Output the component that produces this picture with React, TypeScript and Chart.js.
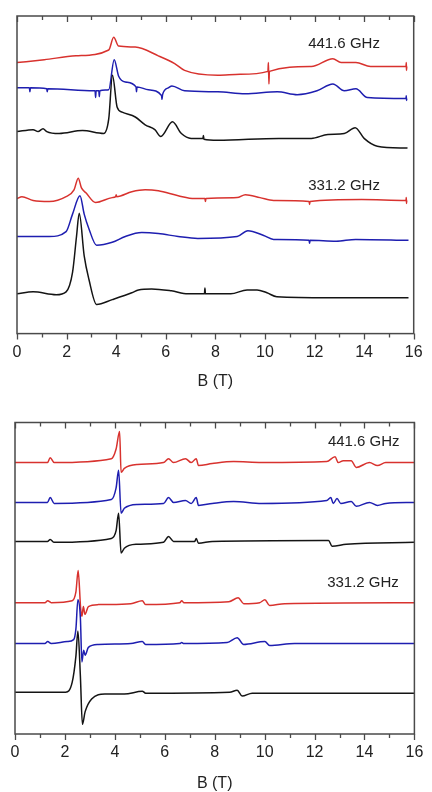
import React, { useEffect, useRef } from "react";
import { Chart, registerables } from "chart.js";

Chart.register(...registerables);

// Magnetic field B (T) vs. offset intensity (arb. units), one list of [B, I] per trace.
// ---------- Upper panel ----------
const TOP_441_RED: [number, number][] = [
  [0, 279], [1.1, 282], [2.38, 286], [3.7, 292], [3.9, 305], [4.1, 296], [4.77, 295], [5.7, 286],
  [6.36, 278], [6.76, 271], [8.1, 266], [9.0, 267], [10.12, 270], [10.14, 279], [10.16, 257], [10.18, 270],
  [11.87, 275], [12.74, 283], [13.07, 279], [13.67, 279], [14.26, 275], [15.69, 275], [15.7, 279], [15.71, 271], [15.72, 275],
];
const TOP_441_BLUE: [number, number][] = [
  [0, 253], [0.5, 253], [0.52, 249], [0.54, 253], [1.2, 252], [1.22, 249], [1.24, 252], [3.1, 250], [3.15, 250], [3.17, 243], [3.19, 250],
  [3.3, 250], [3.32, 244], [3.34, 250], [3.7, 251], [3.92, 282], [4.1, 265], [4.37, 259], [4.8, 254], [4.82, 249], [4.84, 254],
  [5.3, 251], [5.83, 245], [5.85, 241], [5.87, 246], [6.1, 253], [6.25, 255], [6.76, 250], [8.1, 249], [9.2, 247], [10.5, 249],
  [11.3, 246], [12.1, 250], [12.74, 257], [13.2, 250], [13.67, 252], [14.13, 243], [15.69, 242], [15.7, 245], [15.71, 240], [15.72, 242],
];
const TOP_441_BLACK: [number, number][] = [
  [0, 208], [0.65, 210], [0.85, 208], [1.05, 211], [1.2, 208], [1.7, 206], [2.64, 209], [3.5, 206], [3.7, 221], [3.85, 266], [4.04, 233],
  [4.24, 228], [4.77, 223], [5.17, 215], [5.56, 210], [5.8, 203], [6.27, 218], [6.63, 206], [7.02, 201], [7.5, 201], [7.52, 204], [7.54, 200],
  [8.1, 199], [10.56, 201], [11.87, 201], [12.54, 205], [13.2, 206], [13.64, 212], [14.0, 201], [14.53, 193], [15.75, 191],
];
const TOP_331_RED: [number, number][] = [
  [0, 139], [0.2, 141], [0.65, 137], [1.3, 136], [1.98, 141], [2.3, 148], [2.47, 160], [2.6, 150], [2.78, 145], [3.17, 135],
  [3.84, 140], [3.98, 141], [4.0, 143], [4.02, 141], [4.63, 146], [5.17, 148], [5.7, 147], [6.5, 142], [7.16, 139], [7.58, 139], [7.6, 136], [7.62, 139],
  [8.88, 140], [9.21, 143], [9.8, 140], [10.35, 137], [11.78, 136], [11.8, 133], [11.82, 136], [13.9, 138], [15.69, 137], [15.7, 140], [15.71, 134], [15.72, 137],
];
const TOP_331_BLUE: [number, number][] = [
  [0, 100], [1.3, 100], [1.98, 105], [2.24, 123], [2.54, 142], [2.71, 123], [2.9, 108], [3.21, 91], [3.84, 94], [4.37, 100],
  [5.03, 104], [5.7, 103], [6.5, 100], [7.29, 98], [8.88, 100], [9.31, 106], [9.95, 101], [10.35, 97], [11.78, 96], [11.8, 93], [11.82, 96],
  [12.87, 95], [13.66, 97], [15.79, 96],
];
const TOP_331_BLACK: [number, number][] = [
  [0, 41], [0.65, 43], [1.58, 40], [1.98, 43], [2.24, 63], [2.4, 100], [2.51, 124], [2.71, 80], [2.9, 56], [3.21, 30], [3.84, 35],
  [4.63, 42], [4.9, 45], [5.43, 46], [6.23, 44], [6.89, 41], [7.56, 41], [7.58, 47], [7.6, 41], [8.62, 41], [9.28, 45], [9.68, 45],
  [10.08, 42], [10.48, 38], [12.6, 37], [15.79, 37],
];

// ---------- Lower panel ----------
const BOT_441_RED: [number, number][] = [
  [0, 279], [1.3, 279], [1.41, 284], [1.57, 279], [3.86, 283], [4.05, 293], [4.19, 311], [4.25, 269], [4.38, 273], [4.9, 277],
  [5.95, 279], [6.15, 283], [6.35, 279], [6.83, 283], [7.06, 279], [7.26, 283], [7.35, 276], [7.9, 278], [8.76, 280], [9.88, 279],
  [12.49, 280], [12.82, 285], [12.95, 279], [13.15, 281], [13.47, 281], [13.67, 274], [14.2, 279], [14.52, 276], [14.85, 279], [16, 279],
];
const BOT_441_BLUE: [number, number][] = [
  [0, 238], [1.3, 238], [1.41, 243], [1.57, 237], [3.86, 241], [4.05, 253], [4.15, 271], [4.25, 227], [4.38, 232], [4.9, 236],
  [5.95, 237], [6.15, 243], [6.35, 238], [6.83, 240], [7.06, 237], [7.26, 243], [7.35, 235], [7.9, 237], [8.76, 239], [9.88, 237],
  [12.49, 240], [12.65, 243], [12.75, 237], [12.9, 242], [13.05, 237], [13.47, 239], [13.67, 234], [14.2, 238], [14.52, 235], [14.85, 237], [16, 238],
];
const BOT_441_BLACK: [number, number][] = [
  [0, 198], [1.3, 198], [1.41, 200], [1.57, 197], [3.86, 201], [4.05, 209], [4.15, 227], [4.25, 186], [4.38, 191], [4.9, 195],
  [5.95, 197], [6.15, 203], [6.35, 198], [7.2, 198], [7.26, 201], [7.35, 196], [7.9, 198], [12.3, 199], [12.56, 199], [12.7, 193],
  [13.27, 195], [16, 197],
];
const BOT_331_RED: [number, number][] = [
  [0, 135], [1.2, 135], [1.31, 137], [1.45, 135], [2.29, 137], [2.44, 146], [2.53, 168], [2.63, 129], [2.68, 121], [2.74, 131],
  [2.8, 123], [2.94, 131], [3.34, 133], [4.64, 134], [5.1, 137], [5.23, 133], [6.6, 135], [6.68, 137], [6.76, 135], [8.57, 136],
  [8.94, 140], [9.16, 134], [9.8, 135], [10.01, 138], [10.2, 132], [10.8, 134], [16, 135],
];
const BOT_331_BLUE: [number, number][] = [
  [0, 93], [1.2, 93], [1.31, 95], [1.45, 93], [2.09, 95], [2.35, 97], [2.44, 108], [2.52, 138], [2.62, 119], [2.68, 74], [2.75, 86],
  [2.81, 81], [2.94, 89], [3.34, 92], [4.64, 93], [5.1, 95], [5.23, 92], [6.6, 93], [6.68, 94], [6.76, 93], [8.5, 94], [8.9, 99],
  [9.16, 92], [10.01, 95], [10.2, 91], [11.2, 93], [16, 93],
];
const BOT_331_BLACK: [number, number][] = [
  [0, 43], [2.03, 43], [2.29, 53], [2.44, 80], [2.52, 106], [2.62, 59], [2.7, 10], [2.81, 23], [3.07, 36], [3.6, 41], [4.38, 41],
  [5.1, 44], [5.23, 42], [8.6, 43], [8.9, 45], [9.1, 39], [9.5, 42], [16, 42],
];

const X_MIN = 0;
const X_MAX = 16;
const X_LABEL_STEP = 2;
const X_MINOR_STEP = 1;
const AXIS_TITLE = "B (T)";
const FREQ_LABELS_TOP: [string, number, number][] = [
  ["441.6 GHz", 13.19, 298],
  ["331.2 GHz", 13.19, 152],
];
const FREQ_LABELS_BOT: [string, number, number][] = [
  ["441.6 GHz", 13.97, 300.7],
  ["331.2 GHz", 13.94, 155.7],
];

const RED = "#d8322e";
const BLUE = "#1e1eb0";
const BLACK = "#141414";
const FRAME = "#4a4a4a";
const TEXT = "#222222";
const FONT = "'Liberation Sans', Arial, sans-serif";

type Pair = [number, number][];

const framePlugin = (labels: [string, number, number][]) => ({
  id: "frameTicks",
  afterDatasetsDraw(chart: any) {
    const { ctx, chartArea: a, scales } = chart;
    const xs = scales.x;
    const ys = scales.y;
    ctx.save();
    ctx.strokeStyle = FRAME;
    ctx.lineWidth = 1.5;
    ctx.strokeRect(a.left, a.top, a.right - a.left, a.bottom - a.top);
    ctx.lineWidth = 1.3;
    for (let v = X_MIN; v <= X_MAX + 1e-9; v += X_MINOR_STEP) {
      const px = Math.round(xs.getPixelForValue(v)) + 0.5;
      const major = Math.abs(v / X_LABEL_STEP - Math.round(v / X_LABEL_STEP)) < 1e-6;
      const len = major ? 6 : 4;
      ctx.beginPath();
      ctx.moveTo(px, a.bottom);
      ctx.lineTo(px, a.bottom + len);
      ctx.moveTo(px, a.top);
      ctx.lineTo(px, a.top + len);
      ctx.stroke();
    }
    ctx.fillStyle = TEXT;
    ctx.font = `15px ${FONT}`;
    ctx.textAlign = "center";
    ctx.textBaseline = "middle";
    for (const [t, bx, by] of labels) {
      ctx.fillText(t, xs.getPixelForValue(bx), ys.getPixelForValue(by));
    }
    ctx.restore();
  },
});

function makeConfig(
  traces: [Pair, string][],
  yMax: number,
  padding: any,
  tickPad: number,
  titlePadTop: number,
  labels: [string, number, number][]
): any {
  return {
    type: "line",
    data: {
      datasets: traces.map(([arr, color]) => ({
        data: arr.map(([x, y]) => ({ x, y })),
        borderColor: color,
        borderWidth: 1.5,
        pointRadius: 0,
        fill: false,
        cubicInterpolationMode: "monotone",
      })),
    },
    options: {
      responsive: false,
      animation: false,
      devicePixelRatio: 1,
      layout: { padding },
      plugins: { legend: { display: false }, tooltip: { enabled: false } },
      events: [],
      scales: {
        x: {
          type: "linear",
          min: X_MIN,
          max: X_MAX,
          grid: { display: false, drawTicks: false },
          border: { display: false },
          ticks: {
            stepSize: X_LABEL_STEP,
            padding: tickPad,
            color: TEXT,
            font: { family: FONT, size: 16, lineHeight: 1.2 },
            maxRotation: 0,
          },
          title: {
            display: true,
            text: AXIS_TITLE,
            color: TEXT,
            font: { family: FONT, size: 16, lineHeight: 1 },
            padding: { top: titlePadTop, bottom: 0 },
          },
        },
        y: { display: false, min: 0, max: yMax },
      },
    },
    plugins: [framePlugin(labels)],
  };
}

function Panel({ top, config }: { top: number; config: any }) {
  const ref = useRef<HTMLCanvasElement>(null);
  useEffect(() => {
    if (!ref.current) return;
    const chart = new Chart(ref.current, config);
    return () => chart.destroy();
  }, []);
  return (
    <canvas
      ref={ref}
      width={432}
      height={396}
      style={{ position: "absolute", left: 0, top, width: 432, height: 396 }}
    />
  );
}

export default function App() {
  const topCfg = makeConfig(
    [
      [TOP_331_BLACK, BLACK],
      [TOP_331_BLUE, BLUE],
      [TOP_331_RED, RED],
      [TOP_441_BLACK, BLACK],
      [TOP_441_BLUE, BLUE],
      [TOP_441_RED, RED],
    ],
    327,
    { left: 17, right: 13, top: 16, bottom: 6 },
    9.4,
    2.4,
    FREQ_LABELS_TOP
  );
  const botCfg = makeConfig(
    [
      [BOT_331_BLACK, BLACK],
      [BOT_331_BLUE, BLUE],
      [BOT_331_RED, RED],
      [BOT_441_BLACK, BLACK],
      [BOT_441_BLUE, BLUE],
      [BOT_441_RED, RED],
    ],
    320.2,
    { left: 15, right: 9.3, top: 26.5, bottom: 0 },
    8.7,
    5.4,
    FREQ_LABELS_BOT
  );
  return (
    <div style={{ position: "fixed", left: 0, top: 0, width: 432, height: 792, overflow: "hidden", background: "#fff" }}>
      <Panel top={0} config={topCfg} />
      <Panel top={396} config={botCfg} />
    </div>
  );
}
